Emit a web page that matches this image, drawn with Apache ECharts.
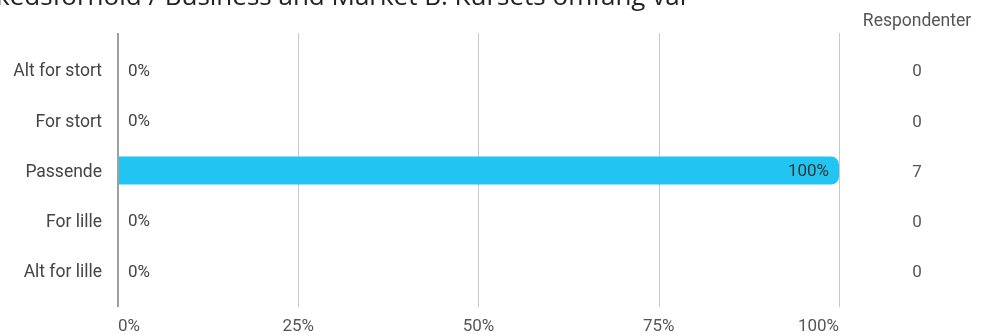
<!DOCTYPE html>
<html>
<head>
<meta charset="utf-8">
<script src="https://cdn.jsdelivr.net/npm/echarts@6/dist/echarts.min.js"></script>
<style>
  html, body { margin: 0; padding: 0; background: #fff; }
  #chart { width: 987px; height: 335px; }
</style>
</head>
<body>
<div id="chart"></div>
<script>
// Survey answers: share of respondents per option, and respondent counts
const categories = ['Alt for stort', 'For stort', 'Passende', 'For lille', 'Alt for lille'];
const shares = [0, 0, 100, 0, 0];
const counts = [0, 0, 7, 0, 0];
const tickValues = [0, 25, 50, 75, 100];
const titleText = 'kedsforhold / Business and Market B: Kursets omfang var';
const countHeader = 'Respondenter';

const FONT = 'Roboto';
const chart = echarts.init(document.getElementById('chart'), null, { renderer: 'canvas' });

const option = {
  animation: false,
  backgroundColor: '#fff',
  graphic: [
    {
      type: 'text',
      left: -4,
      top: -15,
      style: { text: titleText, font: '26px "Open Sans"', fill: '#222' }
    },
    {
      type: 'text',
      x: 917,
      y: 22,
      style: {
        text: countHeader, font: '17.5px ' + FONT, fill: '#555',
        align: 'center', verticalAlign: 'middle'
      }
    }
  ],
  grid: [
    // frame for the percentage scale and its gridlines
    { left: 118, right: 148, top: 33, bottom: 27 },
    // band area holding the bars
    { left: 118, right: 148, top: 45, bottom: 39 }
  ],
  xAxis: [
    {
      gridIndex: 0, type: 'value', min: 0, max: 100, interval: 25,
      axisLine: { show: false }, axisTick: { show: false },
      splitLine: { show: true, lineStyle: { color: '#c8c8c8', width: 1 } },
      axisLabel: {
        formatter: v => tickValues.includes(v) ? v + '%' : '',
        color: '#555', fontFamily: FONT, fontSize: 17, margin: 11,
        alignMinLabel: 'left', alignMaxLabel: 'right'
      }
    },
    {
      gridIndex: 1, type: 'value', min: 0, max: 100, show: false
    }
  ],
  yAxis: [
    {
      gridIndex: 0, type: 'value', min: 0, max: 1, show: false
    },
    {
      gridIndex: 1, type: 'category', data: categories, inverse: true,
      axisLine: { show: false }, axisTick: { show: false },
      splitLine: { show: false },
      axisLabel: {
        fontFamily: FONT, fontSize: 17.5, margin: 16,
        formatter: v => '{c|' + v + '}',
        rich: { c: { color: '#444', fontFamily: FONT, fontSize: 17.5, padding: [4, 0, 0, 0] } }
      }
    },
    {
      gridIndex: 1, type: 'category', data: counts.map(String), inverse: true,
      position: 'right',
      axisLine: { show: false }, axisTick: { show: false },
      axisLabel: {
        margin: 78, align: 'center',
        formatter: v => '{n|' + v + '}',
        rich: { n: { color: '#555', fontFamily: FONT, fontSize: 17, padding: [4, 0, 0, 0] } }
      }
    }
  ],
  series: [
    {
      type: 'bar',
      xAxisIndex: 1, yAxisIndex: 1,
      data: shares,
      barWidth: 28,
      itemStyle: { color: '#22c4f2', borderRadius: [0, 8, 8, 0] },
      label: {
        show: true,
        formatter: p => p.value + '%',
        fontFamily: FONT, fontSize: 17,
        position: 'right', distance: 10,
        offset: [0, 1.5],
        color: '#444'
      }
    },
    {
      // vertical baseline at 0%
      type: 'line',
      xAxisIndex: 0, yAxisIndex: 0,
      data: [[0, 0], [0, 1]],
      symbol: 'none',
      lineStyle: { color: '#a0a0a0', width: 2 },
      silent: true, z: 5
    }
  ]
};

// the full bar carries its label inside its right end
option.series[0].data = shares.map(v => v >= 100
  ? { value: v, label: { position: 'insideRight', distance: 10, color: '#333' } }
  : v);

chart.setOption(option);
</script>
</body>
</html>
